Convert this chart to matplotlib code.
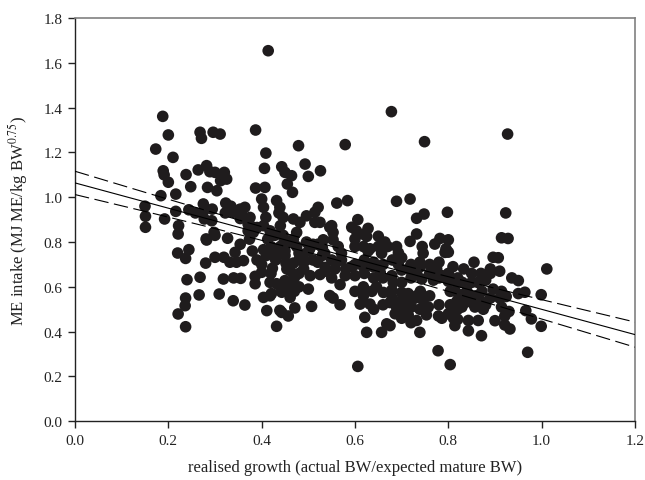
import numpy as np
import matplotlib
matplotlib.use("Agg")
import matplotlib.pyplot as plt

# ---- data ----
growth = [
    0.150, 0.151, 0.151, 0.173, 0.188, 0.200, 0.210, 0.189, 0.191, 0.200, 0.184, 0.216,
    0.192, 0.216, 0.222, 0.221, 0.220, 0.244, 0.237, 0.240, 0.237, 0.236, 0.221, 0.237,
    0.238, 0.248, 0.244, 0.258, 0.268, 0.271, 0.296, 0.311, 0.264, 0.282, 0.289, 0.300,
    0.320, 0.312, 0.325, 0.284, 0.304, 0.275, 0.276, 0.294, 0.277, 0.293, 0.298, 0.281,
    0.300, 0.266, 0.268, 0.280, 0.282,
    0.327, 0.323, 0.334, 0.322, 0.339, 0.354, 0.364, 0.354, 0.368, 0.376, 0.382, 0.374,
    0.387, 0.387, 0.357, 0.375, 0.371, 0.390, 0.371, 0.354, 0.300, 0.319, 0.332, 0.343,
    0.346, 0.361, 0.318, 0.355, 0.309, 0.339, 0.364, 0.386, 0.386, 0.400, 0.404, 0.340,
    0.414, 0.409, 0.406, 0.407, 0.400, 0.404, 0.409, 0.404, 0.413, 0.418, 0.443, 0.450,
    0.464, 0.455, 0.466, 0.479, 0.493, 0.500, 0.432, 0.439, 0.446, 0.440, 0.440, 0.468,
    0.482, 0.475, 0.468, 0.496, 0.437, 0.446, 0.457, 0.450, 0.475, 0.496, 0.503, 0.430,
    0.480, 0.428, 0.423, 0.418, 0.432, 0.404, 0.418, 0.411, 0.432, 0.443, 0.443, 0.457,
    0.471, 0.461, 0.461, 0.450, 0.461, 0.468, 0.452, 0.450, 0.446, 0.482, 0.493, 0.500,
    0.510, 0.510, 0.520, 0.500, 0.504, 0.507, 0.421, 0.439, 0.454, 0.450,
    0.514, 0.521, 0.514, 0.525, 0.546, 0.526, 0.561, 0.584, 0.550, 0.553, 0.532, 0.535,
    0.564, 0.536, 0.536, 0.546, 0.550, 0.557, 0.568, 0.553, 0.579, 0.606, 0.593, 0.603,
    0.600, 0.618, 0.571, 0.571, 0.593, 0.600, 0.579, 0.568, 0.525, 0.530, 0.553, 0.600,
    0.600,
    0.606, 0.628, 0.625, 0.650, 0.650, 0.670, 0.618, 0.660, 0.689, 0.632, 0.678, 0.689,
    0.611, 0.632, 0.618, 0.621, 0.625, 0.657, 0.668, 0.675, 0.686, 0.689, 0.700, 0.675,
    0.700, 0.682, 0.661, 0.646, 0.679, 0.700, 0.693, 0.693, 0.664, 0.657, 0.628, 0.618,
    0.639, 0.654, 0.618, 0.636, 0.679,
    0.718, 0.732, 0.748, 0.798, 0.749, 0.718, 0.732, 0.744, 0.771, 0.782, 0.795, 0.778,
    0.739, 0.732, 0.739, 0.746, 0.753, 0.729, 0.721, 0.714, 0.707, 0.714, 0.732, 0.743,
    0.739, 0.746, 0.775, 0.793, 0.768, 0.757, 0.786, 0.786, 0.714, 0.732, 0.714, 0.779,
    0.804, 0.800, 0.820, 0.800, 0.804, 0.815, 0.829, 0.818, 0.804, 0.811, 0.820, 0.814,
    0.829, 0.843, 0.854, 0.868, 0.875, 0.857, 0.843, 0.864, 0.843, 0.863, 0.850, 0.833,
    0.855, 0.871, 0.800, 0.800, 0.818, 0.836, 0.850, 0.872, 0.890, 0.896, 0.890, 0.896,
    0.900,
    0.923, 0.914, 0.928, 0.927, 0.907, 0.910, 0.914, 0.924, 0.910, 0.914, 0.921, 0.921,
    0.932, 0.936, 0.950, 0.964, 0.966, 0.978, 0.999, 0.999, 1.011, 0.970, 0.930, 0.950,
    0.620, 0.640, 0.660, 0.680, 0.700, 0.720, 0.740, 0.760, 0.780, 0.760, 0.780, 0.720,
    0.700, 0.660, 0.640, 0.620, 0.600, 0.580, 0.560, 0.520, 0.490, 0.480, 0.470, 0.460,
    0.480, 0.470, 0.440, 0.420, 0.480, 0.530, 0.550, 0.810, 0.830, 0.840, 0.860, 0.820,
    0.800, 0.780, 0.760, 0.740, 0.700, 0.680, 0.660, 0.640, 0.720, 0.700, 0.880, 0.890,
    0.880, 0.870, 0.390, 0.410, 0.430, 0.400, 0.380, 0.440, 0.420,
]
me_intake = [
    0.960, 0.915, 0.866, 1.215, 1.361, 1.278, 1.178, 1.118, 1.100, 1.067, 1.007, 1.014,
    0.903, 0.937, 0.873, 0.836, 0.751, 0.766, 0.727, 0.632, 0.550, 0.516, 0.479, 0.422,
    1.101, 1.047, 0.944, 0.930, 1.290, 1.263, 1.290, 1.282, 1.122, 1.141, 1.114, 1.111,
    1.111, 1.074, 1.081, 1.044, 1.029, 0.970, 0.940, 0.947, 0.903, 0.895, 0.843, 0.814,
    0.830, 0.564, 0.643, 0.706, 0.809,
    0.817, 0.974, 0.960, 0.930, 0.933, 0.947, 0.955, 0.905, 0.903, 0.873, 0.843, 0.813,
    1.300, 1.041, 0.925, 0.910, 0.880, 0.865, 0.850, 0.790, 0.732, 0.732, 0.710, 0.754,
    0.710, 0.717, 0.635, 0.638, 0.568, 0.538, 0.519, 0.647, 0.614, 0.665, 0.766, 0.640,
    1.654, 1.197, 1.129, 1.044, 0.992, 0.955, 0.910, 0.873, 0.813, 0.850, 1.136, 1.111,
    1.096, 1.059, 1.022, 1.230, 1.148, 1.093, 0.985, 0.955, 0.910, 0.873, 0.836, 0.903,
    0.888, 0.843, 0.813, 0.917, 0.930, 0.830, 0.800, 0.760, 0.780, 0.800, 0.770, 0.750,
    0.750, 0.830, 0.683, 0.620, 0.614, 0.553, 0.560, 0.494, 0.424, 0.576, 0.486, 0.470,
    0.506, 0.553, 0.590, 0.628, 0.672, 0.706, 0.706, 0.740, 0.791, 0.747, 0.716, 0.760,
    0.720, 0.790, 0.790, 0.590, 0.650, 0.513, 0.570, 0.495, 0.680, 0.610,
    0.933, 0.955, 0.888, 0.888, 0.866, 1.118, 0.974, 0.985, 0.873, 0.843, 0.810, 0.750,
    0.780, 0.687, 0.670, 0.561, 0.640, 0.680, 0.520, 0.550, 1.235, 0.900, 0.866, 0.850,
    0.814, 0.780, 0.750, 0.720, 0.690, 0.650, 0.650, 0.610, 0.655, 0.775, 0.810, 0.780,
    0.580,
    0.245, 0.861, 0.825, 0.826, 0.780, 0.780, 0.835, 0.790, 0.780, 0.770, 1.382, 0.982,
    0.523, 0.523, 0.560, 0.464, 0.397, 0.397, 0.435, 0.427, 0.480, 0.510, 0.500, 0.530,
    0.575, 0.620, 0.575, 0.600, 0.650, 0.675, 0.700, 0.752, 0.800, 0.750, 0.760, 0.690,
    0.690, 0.665, 0.600, 0.580, 0.585,
    0.992, 0.906, 0.925, 0.933, 1.248, 0.803, 0.836, 0.780, 0.791, 0.816, 0.770, 0.315,
    0.397, 0.450, 0.500, 0.540, 0.475, 0.550, 0.510, 0.475, 0.510, 0.680, 0.665, 0.635,
    0.710, 0.750, 0.680, 0.754, 0.630, 0.510, 0.460, 0.650, 0.545, 0.560, 0.570, 0.470,
    0.253, 0.625, 0.640, 0.660, 0.580, 0.580, 0.565, 0.535, 0.520, 0.460, 0.455, 0.427,
    0.510, 0.565, 0.525, 0.540, 0.500, 0.510, 0.450, 0.450, 0.404, 0.620, 0.620, 0.680,
    0.710, 0.382, 0.810, 0.755, 0.620, 0.530, 0.660, 0.580, 0.680, 0.732, 0.660, 0.590,
    0.449,
    0.930, 0.819, 0.816, 1.282, 0.730, 0.670, 0.580, 0.557, 0.550, 0.510, 0.470, 0.430,
    0.412, 0.640, 0.628, 0.576, 0.494, 0.457, 0.424, 0.565, 0.680, 0.308, 0.490, 0.570,
    0.720, 0.710, 0.700, 0.720, 0.730, 0.700, 0.690, 0.700, 0.710, 0.660, 0.640, 0.640,
    0.620, 0.640, 0.640, 0.660, 0.700, 0.680, 0.710, 0.710, 0.680, 0.660, 0.640, 0.620,
    0.600, 0.580, 0.600, 0.660, 0.720, 0.740, 0.720, 0.690, 0.620, 0.580, 0.560, 0.500,
    0.480, 0.520, 0.560, 0.580, 0.540, 0.550, 0.520, 0.500, 0.440, 0.460, 0.520, 0.550,
    0.630, 0.660, 0.720, 0.740, 0.720, 0.700, 0.760, 0.780, 0.780,
]

# regression line and its 95% confidence band
reg_intercept = 1.064
reg_slope = -0.5642
ci_center_x = 0.57
ci_half_at_center = 0.0275
ci_half_curv = 0.006

x_ticks = [0.0, 0.2, 0.4, 0.6, 0.8, 1.0, 1.2]
y_ticks = [0.0, 0.2, 0.4, 0.6, 0.8, 1.0, 1.2, 1.4, 1.6, 1.8]

plt.rcParams['font.family'] = ['Liberation Serif', 'DejaVu Serif']
plt.rcParams['mathtext.fontset'] = 'stix'

fig = plt.figure(figsize=(6.45, 4.81), dpi=100)
ax = fig.add_axes([75 / 645, 1 - 422.3 / 481, 560 / 645, 403.3 / 481])

ax.scatter(growth, me_intake, s=70, color='#1f1c1d', edgecolors='none', zorder=2)

xs = np.linspace(0.0, 1.2, 200)
fit = reg_intercept + reg_slope * xs
half = np.sqrt(ci_half_at_center ** 2 + ci_half_curv * (xs - ci_center_x) ** 2)
ax.plot(xs, fit, color='black', lw=0.8, zorder=3)
ax.plot(xs, fit + half, color='black', lw=0.8, dashes=(13, 5), zorder=3)
ax.plot(xs, fit - half, color='black', lw=0.8, dashes=(13, 5), zorder=3)

ax.set_xlim(0.0, 1.2)
ax.set_ylim(0.0, 1.8)
ax.set_xticks(x_ticks)
ax.set_yticks(y_ticks)
ax.set_xticklabels([f"{v:.1f}" for v in x_ticks])
ax.set_yticklabels([f"{v:.1f}" for v in y_ticks])
ax.tick_params(direction='out', length=5, width=1, labelsize=11, colors='#222222', pad=4)
ax.tick_params(top=False, right=False)

for side in ['left', 'bottom']:
    ax.spines[side].set_color('#222222')
    ax.spines[side].set_linewidth(1.0)
for side in ['top', 'right']:
    ax.spines[side].set_color('#808080')
    ax.spines[side].set_linewidth(1.2)

ax.set_xlabel('realised growth (actual BW/expected mature BW)', fontsize=12, labelpad=9, color='#222222')
ax.set_ylabel(r'ME intake (MJ ME/kg BW$^{\mathrm{0.75}}$)', fontsize=12, labelpad=10, color='#222222')

fig.savefig('out.png', dpi=100)
